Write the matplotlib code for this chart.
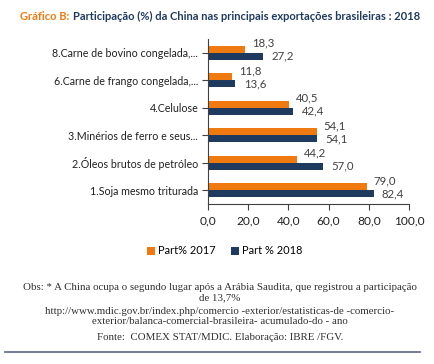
import matplotlib.pyplot as plt
import numpy as np

# data
categories = ['1.Soja mesmo triturada', '2.Óleos brutos de petróleo',
              '3.Minérios de ferro e seus...', '4.Celulose',
              '6.Carne de frango congelada,...', '8.Carne de bovino congelada,...']
part_2017 = [79.0, 44.2, 54.1, 40.5, 11.8, 18.3]
part_2018 = [82.4, 57.0, 54.1, 42.4, 13.6, 27.2]
xticks = [0, 20, 40, 60, 80, 100]

orange = '#F07A10'
navy = '#1F3A5F'
sans = 'Lato'

fig = plt.figure(figsize=(4.35, 3.64), dpi=100)
ax = fig.add_axes([208/435, 1-204/364, 201/435, 165/364])

y = np.arange(len(categories))
h = 0.26
ax.barh(y + h/2, part_2017, height=h, color=orange, label='Part% 2017')
ax.barh(y - h/2, part_2018, height=h, color=navy, label='Part % 2018')

def fmt(v):
    return f"{v:.1f}".replace('.', ',')

for yi, v in zip(y, part_2017):
    ax.annotate(fmt(v), (v, yi + h/2), xytext=(5, 4.5), textcoords='offset points',
                ha='left', va='center', fontsize=8.2, color='#404040',
                family=sans, annotation_clip=False)
for yi, v in zip(y, part_2018):
    ax.annotate(fmt(v), (v, yi - h/2), xytext=(6, 0), textcoords='offset points',
                ha='left', va='center', fontsize=8.2, color='#404040',
                family=sans, annotation_clip=False)

ax.set_xlim(0, 100)
ax.set_ylim(-0.5, len(categories) - 0.5)
ax.set_xticks(xticks)
ax.set_xticklabels([fmt(t) for t in xticks], fontsize=8.6, family=sans, color='#202020')
ax.set_yticks(y)
ax.set_yticklabels(categories, fontsize=7.7, family=sans, color='#202020')
for s in ['top', 'right']:
    ax.spines[s].set_visible(False)
for s in ['left', 'bottom']:
    ax.spines[s].set_color('#404040')
ax.tick_params(axis='x', length=4, color='#404040', pad=4)
ax.tick_params(axis='y', length=4, color='#404040', pad=3)

fig.legend(loc='center', bbox_to_anchor=(225/435, 1-251/364), ncol=2,
           frameon=False, handlelength=0.7, handleheight=0.7,
           handletextpad=0.3, columnspacing=1.4,
           prop={'family': sans, 'size': 7.9})

# title
fig.text(20/435, 1-16/364, 'Gráfico B:', fontsize=8, fontweight='bold',
         color=orange, family=sans, va='center')
fig.text(73/435, 1-16/364,
         'Participação (%) da China nas principais exportações brasileiras : 2018',
         fontsize=8, fontweight='bold', color=navy, family=sans, va='center')

# notes
notes = [
    (287, 'Obs: * A China ocupa o segundo lugar após a Arábia Saudita, que registrou a participação'),
    (298, 'de 13,7%'),
    (311, 'http://www.mdic.gov.br/index.php/comercio -exterior/estatisticas-de -comercio-'),
    (322, 'exterior/balanca-comercial-brasileira- acumulado-do - ano'),
    (337, 'Fonte:  COMEX STAT/MDIC. Elaboração: IBRE /FGV.'),
]
for py, txt in notes:
    fig.text(220/435, 1-py/364, txt, ha='center', va='center', fontsize=7.8,
             family='Liberation Serif', color='#303030')

fig.add_artist(plt.Line2D([5/435, 420/435], [1-352/364, 1-352/364],
                          color='#5A6580', lw=1.2))

fig.savefig('out.png', dpi=100)
